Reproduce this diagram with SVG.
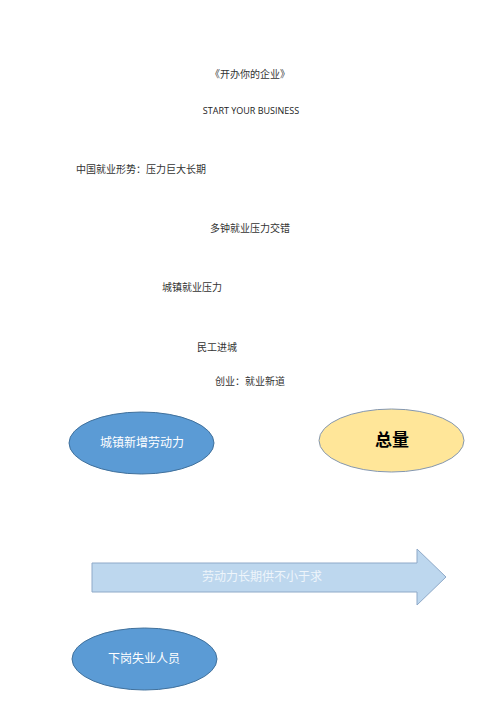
<svg xmlns="http://www.w3.org/2000/svg" width="500" height="707" viewBox="0 0 500 707">
<style>
.t{font-family:"Noto Sans CJK SC","Liberation Sans",sans-serif;font-size:10px;fill:#333}
.e{font-family:"Noto Sans CJK SC","Liberation Sans",sans-serif;font-size:12px;fill:#fff;text-anchor:middle}
.blue{fill:#5B9BD5;stroke:#41719C;stroke-width:1}
</style>
<rect width="500" height="707" fill="#fff"/>
<g id="texts">
<text class="t" x="250" y="78" text-anchor="middle">《开办你的企业》</text>
<text class="t" x="251" y="114" text-anchor="middle" style="font-family:'Open Sans','Liberation Sans',sans-serif;font-size:9px;fill:#222">START YOUR BUSINESS</text>
<text class="t" x="76" y="173">中国就业形势：压力巨大长期</text>
<text class="t" x="210" y="232">多钟就业压力交错</text>
<text class="t" x="162" y="291">城镇就业压力</text>
<text class="t" x="197" y="351">民工进城</text>
<text class="t" x="215" y="385">创业：就业新道</text>
</g>
<g id="node-urban">
<ellipse class="blue" cx="141.5" cy="443" rx="72.5" ry="31"/>
<text class="e" x="142" y="447">城镇新增劳动力</text>
</g>
<g id="node-total">
<ellipse cx="391.5" cy="440.5" rx="72.5" ry="31.5" fill="#FFE699" stroke="#8497B0" stroke-width="1"/>
<text x="392" y="446" text-anchor="middle" style="font-family:'Noto Sans CJK SC',sans-serif;font-size:17px;font-weight:bold;fill:#000">总量</text>
</g>
<g id="node-arrow">
<polygon points="92,563 417,563 417,549 446,577 417,605 417,592 92,592" fill="#BDD7EE" stroke="#8EA9C8" stroke-width="1"/>
<text class="e" x="262" y="581" style="fill:#EEF5FB">劳动力长期供不小于求</text>
</g>
<g id="node-laidoff">
<ellipse class="blue" cx="144.5" cy="659" rx="72.5" ry="31"/>
<text class="e" x="144" y="663">下岗失业人员</text>
</g>
<g id="connectors"></g>
</svg>
